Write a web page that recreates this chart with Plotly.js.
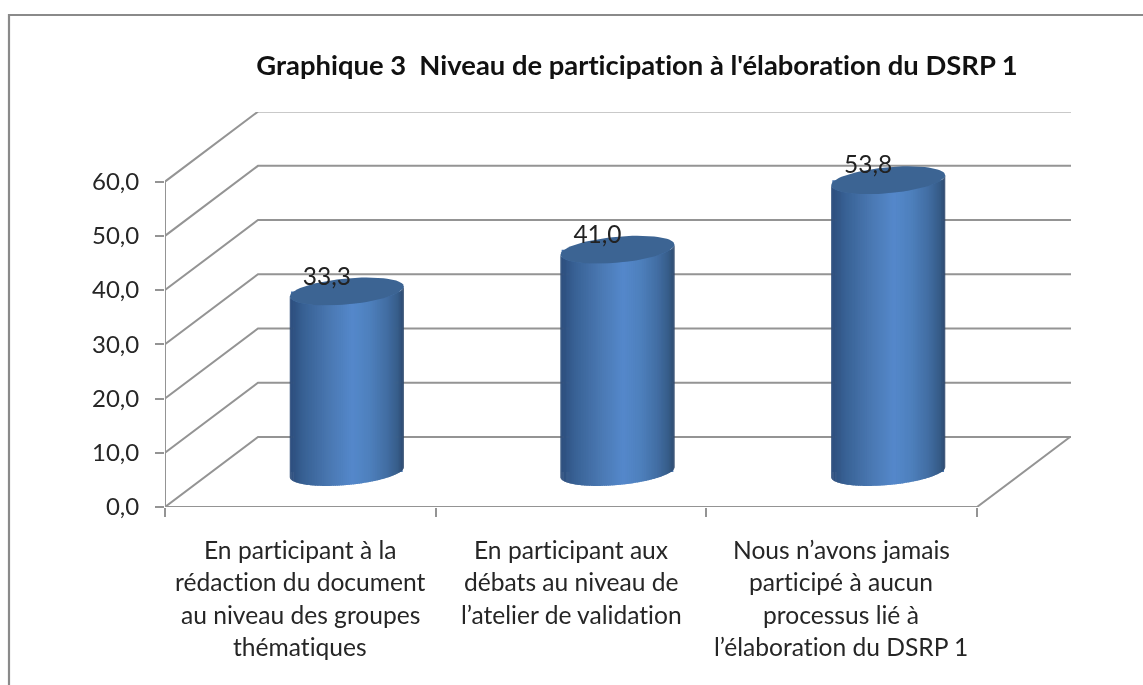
<!DOCTYPE html>
<html>
<head>
<meta charset="utf-8">
<script src="https://cdn.plot.ly/plotly-3.0.1.min.js"></script>
<style>html,body{margin:0;padding:0;background:#fff}#chart{width:1143px;height:685px;filter:blur(0.45px)}
svg text{font-variant-ligatures:none;font-feature-settings:"liga" 0,"clig" 0}</style>
</head>
<body>
<div id="chart"></div>
<script>
const chartTitle = "Graphique 3  Niveau de participation à l'élaboration du DSRP 1";
const categoryLines = [
  ["En participant à la", "rédaction du document", "au niveau des groupes", "thématiques"],
  ["En participant aux", "débats au niveau de", "l’atelier de validation"],
  ["Nous n’avons jamais", "participé à aucun", "processus lié à", "l’élaboration du DSRP 1"]
];
const values = [33.3, 41.0, 53.8];
const yTicks = [0, 10, 20, 30, 40, 50, 60];
const yTickLabels = ["0,0", "10,0", "20,0", "30,0", "40,0", "50,0", "60,0"];

// pixel frame of the plot
const W = 1143, H = 685, L = 165, R = 1071, T = 112, B = 507;
const pxX = (977 - 165) / 3;          // px per category
const pxY = (507 - 181.6) / 60;       // px per value unit
const depthX = 93 / pxX, depthY = 70 / pxY;
const xMax = (R - L) / pxX, yMax = (B - T) / pxY;
const radX = 57 / pxX, radY = 13 / pxY, tilt = 5 / pxY;

const gridColor = "#949494", gridW = 2;
const stops = [[0,[44,76,122]],[0.12,[56,97,148]],[0.35,[74,120,178]],[0.55,[84,136,203]],[0.7,[78,128,189]],[0.85,[66,110,163]],[0.95,[54,92,136]],[1,[46,72,108]]];
function grad(u){
  for(let i=1;i<stops.length;i++){
    if(u<=stops[i][0]){
      const [a,ca]=stops[i-1],[b,cb]=stops[i],f=(u-a)/(b-a);
      return "rgb("+ca.map((c,k)=>Math.round(c+(cb[k]-c)*f)).join(",")+")";
    }
  }
  return "rgb(46,72,108)";
}
const traces = [];
const base = {hoverinfo:"skip", showlegend:false};
// underlying bars (covered by the shaded cylinders)
traces.push({type:"bar", x:values.map((v,i)=>i+0.5+depthX/2), y:values, base:values.map(()=>depthY/2),
  width:2*radX*0.98, marker:{color:"#4a78b2",line:{width:0}}, ...base});
// grid: side wall and back wall
yTicks.forEach(v=>{
  traces.push({type:"scatter",mode:"lines",x:[0,depthX,xMax],y:[v,v+depthY,v+depthY],
    line:{color:gridColor,width:gridW},...base});
});
// floor and vertical axis
traces.push({type:"scatter",mode:"lines",x:[0,3,3+depthX],y:[0,0,depthY],line:{color:gridColor,width:gridW},...base});
traces.push({type:"scatter",mode:"lines",x:[0,0],y:[0,60],line:{color:gridColor,width:gridW},...base});

// cylinders: strips uniform in angle along the front of the cylinder
const N = 90;
values.forEach((v,i)=>{
  const cx=i+0.5+depthX/2, cy=depthY/2;
  for(let k=0;k<N;k++){
    const t0=Math.PI*(1-k/N), t1=Math.max(0,Math.PI*(1-(k+1.7)/N));
    const xs=[],ys=[];
    const m=3;
    for(let j=0;j<=m;j++){const t=t0+(t1-t0)*j/m; xs.push(cx+radX*Math.cos(t)); ys.push(cy+tilt*Math.cos(t)-radY*Math.sin(t));}
    for(let j=m;j>=0;j--){const t=t0+(t1-t0)*j/m; xs.push(cx+radX*Math.cos(t)); ys.push(cy+v+tilt*Math.cos(t)-radY*Math.sin(t));}
    traces.push({type:"scatter",mode:"lines",x:xs,y:ys,fill:"toself",fillcolor:grad((Math.cos(Math.PI*(1-(k+0.5)/N))+1)/2),line:{width:0},...base});
  }
  const ex=[],ey=[];
  for(let a=0;a<=72;a++){const t=a/72*2*Math.PI; ex.push(cx+radX*Math.cos(t)); ey.push(cy+v+tilt*Math.cos(t)+radY*Math.sin(t));}
  traces.push({type:"scatter",mode:"lines",x:ex,y:ey,fill:"toself",fillcolor:"#3c6493",line:{width:0},...base});
});
// value labels
traces.push({type:"scatter",mode:"text",
  x:values.map((v,i)=>i+0.5+depthX/2-20/pxX),
  y:values.map(v=>v+depthY/2+13/pxY),
  text:values.map(v=>v.toFixed(1).replace(".",",")),
  textposition:"middle center",
  textfont:{family:"Lato, sans-serif",size:24.5,color:"#222"},
  cliponaxis:false,...base});

const annotations=[];
categoryLines.forEach((lines,i)=>{
  const center=[300,571,841][i];
  lines.forEach((t,k)=>{
    annotations.push({text:t,xref:"x",yref:"paper",x:(center-L)/pxX,y:(B-(549+k*32.5))/(B-T),
      xanchor:"center",yanchor:"middle",showarrow:false,font:{family:"Lato, sans-serif",size:24.6,color:"#262626"}});
  });
});

const layout={
  width:W,height:H,autosize:false,showlegend:false,paper_bgcolor:"#fff",plot_bgcolor:"rgba(0,0,0,0)",
  margin:{l:L,r:W-R,t:T,b:H-B,pad:0},
  title:{text:chartTitle,x:637/W,xanchor:"center",y:1-65/H,yanchor:"middle",font:{family:"Lato, sans-serif",size:27.4,color:"#111",weight:700}},
  xaxis:{range:[0,xMax],showgrid:false,zeroline:false,showline:false,showticklabels:false,ticks:"",fixedrange:true,
    minor:{tickvals:[0,1,2,3],ticks:"outside",ticklen:9,tickwidth:gridW,tickcolor:gridColor,showgrid:false}},
  yaxis:{range:[0,yMax],showgrid:false,zeroline:false,showline:false,tickmode:"array",tickvals:yTicks,ticktext:yTickLabels,
    ticks:"outside",ticklen:9,tickwidth:gridW,tickcolor:gridColor,fixedrange:true,ticklabelstandoff:11,
    tickfont:{family:"Lato, sans-serif",size:24,color:"#262626"}},
  shapes:[{type:"path",xref:"paper",yref:"paper",layer:"below",
    path:"M "+((9-L)/(R-L))+" "+((B-H-5)/(B-T))+" L "+((9-L)/(R-L))+" "+((B-15)/(B-T))+" L "+((W+5-L)/(R-L))+" "+((B-15)/(B-T)),
    line:{color:"#8a8a8a",width:2.2}}],
  annotations
};
Plotly.newPlot("chart",traces,layout,{displayModeBar:false,staticPlot:true});
</script>
</body>
</html>
